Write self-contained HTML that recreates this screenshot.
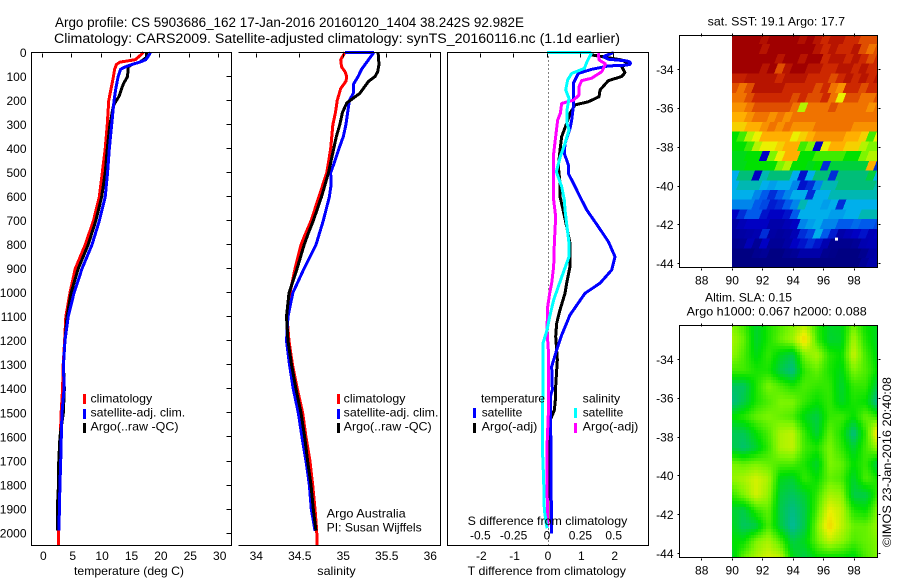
<!DOCTYPE html>
<html lang="en">
<head>
<meta charset="utf-8">
<title>Argo profile</title>
<style>
html,body{margin:0;padding:0;background:#fff;width:900px;height:580px;overflow:hidden}
svg{display:block}
text{font-family:"Liberation Sans",sans-serif;font-size:12px;fill:#000}
.t{font-size:13.5px}
.b{fill:none;stroke:#000;stroke-width:1;shape-rendering:crispEdges}
</style>
</head>
<body>
<svg id="fig" xmlns="http://www.w3.org/2000/svg" width="900" height="580" viewBox="0 0 900 580">
<defs>
<clipPath id="sst-clip"><rect x="732" y="35.5" width="145.5" height="232"/></clipPath>
<clipPath id="sla-clip"><rect x="732" y="325.5" width="145.5" height="232"/></clipPath>
</defs>
<text class="t" x="55" y="27" textLength="469" lengthAdjust="spacingAndGlyphs">Argo profile: CS 5903686_162 17-Jan-2016 20160120_1404 38.242S 92.982E</text>
<text class="t" x="54" y="43" textLength="566" lengthAdjust="spacingAndGlyphs">Climatology: CARS2009. Satellite-adjusted climatology: synTS_20160116.nc (1.1d earlier)</text>

<g id="temp-marks"></g>
<g id="sal-marks"></g>
<line id="zero-line" stroke="#000" stroke-width="1" stroke-dasharray="1 3" shape-rendering="crispEdges"/>
<g id="diff-marks"></g>

<g id="sst-cells" clip-path="url(#sst-clip)"></g>
<g id="sla-cells" clip-path="url(#sla-clip)"></g>

<path class="b" d="M31.5 52.5H231.5V545.5H31.5Z"/>
<path class="b" d="M238.5 52.5H440.5V545.5H238.5"/>
<path class="b" d="M447.5 52.5H648.5V545.5H447.5Z"/>
<path class="b" d="M679.5 35.5H877.5V267.5H679.5Z"/>
<path class="b" d="M679.5 325.5H877.5V557.5H679.5Z"/>
<g id="axes"></g>

<text x="74" y="575" textLength="110" lengthAdjust="spacingAndGlyphs">temperature (deg C)</text>
<text x="317.3" y="575" textLength="38.4" lengthAdjust="spacingAndGlyphs">salinity</text>
<text x="467.7" y="575" textLength="158.3" lengthAdjust="spacingAndGlyphs">T difference from climatology</text>
<text x="467.7" y="525" textLength="159.6" lengthAdjust="spacingAndGlyphs">S difference from climatology</text>

<g>
<rect x="83" y="394" width="3" height="10" fill="#f00"/>
<rect x="83" y="409" width="3" height="10" fill="#00f"/>
<rect x="83" y="423" width="3" height="10" fill="#000"/>
<text x="90.5" y="402.7" textLength="61.7" lengthAdjust="spacingAndGlyphs">climatology</text>
<text x="90.5" y="416.7" textLength="94.7" lengthAdjust="spacingAndGlyphs">satellite-adj. clim.</text>
<text x="90.5" y="430.7" textLength="88" lengthAdjust="spacingAndGlyphs">Argo(..raw -QC)</text>
</g>
<g>
<rect x="337" y="394" width="3" height="10" fill="#f00"/>
<rect x="337" y="409" width="3" height="10" fill="#00f"/>
<rect x="337" y="423" width="3" height="10" fill="#000"/>
<text x="343.7" y="402.7" textLength="61.7" lengthAdjust="spacingAndGlyphs">climatology</text>
<text x="343.7" y="416.7" textLength="94.7" lengthAdjust="spacingAndGlyphs">satellite-adj. clim.</text>
<text x="343.7" y="430.7" textLength="88" lengthAdjust="spacingAndGlyphs">Argo(..raw -QC)</text>
</g>
<text x="326.7" y="517.5" textLength="79" lengthAdjust="spacingAndGlyphs">Argo Australia</text>
<text x="326.7" y="531.7" textLength="95" lengthAdjust="spacingAndGlyphs">PI: Susan Wijffels</text>

<g>
<text x="481" y="402.7" textLength="64" lengthAdjust="spacingAndGlyphs">temperature</text>
<text x="582.7" y="402.7" textLength="37.5" lengthAdjust="spacingAndGlyphs">salinity</text>
<rect x="473" y="408" width="3" height="10" fill="#00f"/>
<rect x="473" y="423" width="3" height="10" fill="#000"/>
<rect x="574" y="408" width="3" height="10" fill="#0ff"/>
<rect x="574" y="423" width="3" height="10" fill="#f0f"/>
<text x="481.7" y="416.7" textLength="40.6" lengthAdjust="spacingAndGlyphs">satellite</text>
<text x="481.7" y="430.7" textLength="55.6" lengthAdjust="spacingAndGlyphs">Argo(-adj)</text>
<text x="582.7" y="416.7" textLength="40.6" lengthAdjust="spacingAndGlyphs">satellite</text>
<text x="582.7" y="430.7" textLength="55.6" lengthAdjust="spacingAndGlyphs">Argo(-adj)</text>
</g>

<text x="707.7" y="25.3" textLength="137.3" lengthAdjust="spacingAndGlyphs">sat. SST: 19.1 Argo: 17.7</text>
<text x="705" y="301.7" textLength="87" lengthAdjust="spacingAndGlyphs">Altim. SLA: 0.15</text>
<text x="686.7" y="315.7" textLength="180" lengthAdjust="spacingAndGlyphs">Argo h1000: 0.067 h2000: 0.088</text>
<text transform="translate(891 547) rotate(-90)" textLength="170" lengthAdjust="spacingAndGlyphs">©IMOS 23-Jan-2016 20:40:08</text>
</svg>

<script>
// ---------- axis tick data ----------
const depthTicks = [0,100,200,300,400,500,600,700,800,900,1000,1100,1200,1300,1400,1500,1600,1700,1800,1900,2000];
const tempTicks = [0,5,10,15,20,25,30];
const salTicks = [34,34.5,35,35.5,36];
const tDiffTicks = [-2,-1,0,1,2];
const sDiffTicks = [-0.5,-0.25,0,0.25,0.5];
const lonTicks = [88,90,92,94,96,98];
const latTicks = [34,36,38,40,42,44];

// ---------- temperature profiles (deg C) ----------
const tempClimDepth = [0,20,30,40,50,70,100,150,200,300,400,500,600,700,800,900,1000,1100,1200,1300,1400,1500,1600,1700,1800,1900,2000,2050];
const tempClimValues = [17.2,16.3,15.8,13.2,12.6,12.3,12.1,11.7,11.3,11.05,10.7,10.2,9.7,8.7,7.3,5.6,4.7,4,3.8,3.55,3.45,3.2,3.07,2.85,2.85,2.7,2.72,2.72];
const tempSatDepth = [0,20,30,40,50,60,70,100,150,200,300,400,500,600,700,800,900,1000,1100,1200,1300,1400,1500,1600,1700,1800,1900,1990];
const tempSatValues = [18.4,17.9,17.6,16.6,15.2,14.1,13.3,12.9,12.5,12.2,11.8,11.4,11.1,10.7,9.7,8.45,6.75,5.4,4.4,3.85,3.6,3.7,3.35,3.23,3.13,3,2.9,2.85];
const tempArgoDepth = [0,20,30,40,50,60,100,130,150,180,200,220,300,400,500,600,700,800,900,1000,1100,1200,1300,1400,1500,1600,1700,1800,1900,1990];
const tempArgoValues = [17.75,17.75,17.2,16.6,15.2,14.6,14.5,13.8,13.5,13.1,12.6,12.1,11.5,11.05,10.7,10.1,9.1,7.8,6.1,4.9,4.2,3.85,3.6,3.75,3.57,3,2.8,2.75,2.55,2.55];

// ---------- salinity profiles ----------
const salClimDepth = [0,30,60,80,100,120,150,200,250,300,400,500,600,700,750,800,900,1000,1100,1200,1300,1400,1500,1600,1700,1800,1900,1990,2050];
const salClimValues = [35.02,34.97,34.98,35.02,35.04,35.03,34.97,34.93,34.91,34.88,34.855,34.81,34.72,34.63,34.57,34.514,34.445,34.387,34.353,34.376,34.416,34.472,34.533,34.571,34.617,34.648,34.675,34.694,34.7];
const salSatDepth = [0,1,30,50,70,100,130,170,200,250,300,350,400,450,500,550,600,700,800,900,1000,1100,1200,1300,1400,1500,1600,1700,1800,1900,1990];
const salSatValues = [35.02,35.35,35.29,35.25,35.21,35.17,35.12,35.115,35.07,35.05,35.03,35,34.95,34.905,34.855,34.86,34.84,34.77,34.686,34.548,34.42,34.364,34.347,34.382,34.425,34.483,34.525,34.571,34.61,34.632,34.675];
const salArgoDepth = [0,50,80,100,120,140,170,190,210,250,300,350,400,500,600,700,750,800,900,1000,1100,1200,1300,1400,1500,1600,1700,1800,1900,1990];
const salArgoValues = [35.4,35.41,35.395,35.365,35.29,35.25,35.19,35.115,35.04,34.99,34.96,34.92,34.89,34.83,34.75,34.655,34.6,34.55,34.468,34.376,34.347,34.364,34.405,34.456,34.514,34.556,34.59,34.629,34.655,34.686];

// ---------- difference profiles ----------
const tDiffSatDepth = [0,17,28,35,40,45,50,53,56,70,87,128,177,225,281,316,378,420,468,503,544,600,655,725,787,850,905,960,1002,1092,1176,1238,1307,1404,1432,1515,1640,1779,2001];
const tDiffSatValues = [2,1.69,1.84,2.4,2.49,2.5,2.49,2.3,1.84,1.34,0.94,0.79,0.79,0.79,0.74,0.69,0.54,0.52,0.64,0.64,0.79,0.99,1.19,1.54,1.84,2.04,1.94,1.59,1.14,0.69,0.44,0.29,0.14,0.16,0.1,0.1,0.12,0.12,0.14];
const tDiffArgoDepth = [10,17,31,45,59,84,100,117,156,184,205,218,253,295,350,406,475,544,600,641,725,794,891,960,1002,1071,1127,1182,1279,1390,1432,1488,1543,1668,1834,1973];
const tDiffArgoValues = [1.34,1.64,2.24,2.45,2.24,2.34,2.24,1.84,1.59,1.56,1.24,0.84,0.69,0.59,0.44,0.39,0.34,0.39,0.39,0.46,0.59,0.69,0.69,0.59,0.54,0.39,0.29,0.26,0.31,0.26,0.26,0.22,0.06,0.04,0.04,0.02];
const sDiffSatDepth = [0,1,6,38,66,87,114,156,191,239,295,322,378,433,496,558,614,655,725,794,850,919,974,1030,1099,1155,1210,1404,1502,1640,1779,1904,1980];
const sDiffSatValues = [0,0.33,0.33,0.3,0.28,0.185,0.155,0.14,0.165,0.15,0.15,0.165,0.135,0.1,0.07,0.11,0.13,0.135,0.15,0.165,0.165,0.12,0.085,0.05,0.02,0,-0.03,-0.03,-0.035,-0.035,-0.025,-0.02,0];
const sDiffArgoDepth = [3,31,48,80,107,117,142,177,198,212,253,281,350,420,503,614,683,794,891,960,1002,1058,1155,1238,1404,1502,1640,1779,1973];
const sDiffArgoValues = [0.385,0.39,0.44,0.41,0.335,0.26,0.24,0.24,0.2,0.11,0.1,0.08,0.065,0.05,0.05,0.05,0.065,0.055,0.05,0.035,0.02,0.005,0,0.01,0.01,0.01,0,0,0.005];

// ---------- map data: colour-level grids ----------
const sstLons = [90,90.5,91,91.5,92,92.5,93,93.5,94,94.5,95,95.5,96,96.5,97,97.5,98,98.5,99,99.5];
const sstLats = [32.2,32.7,33.2,33.7,34.2,34.7,35.2,35.7,36.2,36.7,37.2,37.7,38.2,38.7,39.2,39.7,40.2,40.7,41.2,41.7,42.2,42.7,43.2,43.7];
const sstGrid = [
[11,11,11,11,10.6,11,11,11,11,10.6,11,10.5,10,10.5,10.5,10,10,9.5,9.5,9.5],
[11,11,11,11,10.5,11,11,11,11,11,11,10.5,10,10.5,10,10,10.5,9.5,9,9.5],
[11,11,11,11,11,11,10.5,11,11,10.5,11,11,10,10.5,10.5,10,10.5,10,9.5,10],
[11,11,11,11,10.5,11,9.5,10.5,11,11,10.5,10.5,10,10,10.5,10.5,10,10.5,10,10],
[10.2,10.2,10.5,10.5,10.5,10.5,10,10.5,10.5,10.5,10,10,10,9.5,10,10.5,10,10.5,10,10.5],
[9.5,9,9.5,10.5,10.5,10.5,10.5,10,10,10,10,9.5,10,9,8.5,10,10,9.5,10,10],
[9,9,9.5,10,10,10,10,10,9.5,10,9.5,9.5,10,9,7,9.5,9.5,9,9,9.5],
[8.5,8.5,9,9.5,9.5,9.5,9.5,9.5,9,6.5,9,9,9,9.5,9,9,9,9,8.5,9],
[8,8,8.5,9,9,8.5,9,8.5,9,9,9,9,9,9,9,9,9,9,9,9],
[7.5,7.5,8,8,8.5,9,8.5,9,8.5,8.5,8.5,9,9,9,9,9,8.5,8.5,8.5,8.5],
[5,5.5,6.5,7,8,8,8,8,7,7.5,8,8.5,8.5,8.5,8.5,8,8,7.5,5.5,7],
[5,5,5.5,6.5,7,7,7.5,8,8,5.5,6,1,7,8,8,7.5,7.5,6.5,6,6],
[4.8,4.8,5,5,1,6,7,8,8,5,5,5.5,5.5,5.5,5.5,5,5,6,6.5,6.5],
[4.8,4.8,5,5,5,5,6,6.5,5,5,4.8,5,1.5,4.5,4.5,4.5,4.5,4.5,8,1.5],
[3,4,4,1,3.5,4,4,4,3,1.2,3,4,4,1.5,4,4,4,4,4.5,3],
[3,3.5,3.5,3.5,3,2.8,3,3,2.5,1.2,1.5,2.5,3.5,3.5,4,4,4,4,4,3.5],
[3,3,3,2.5,2,1.5,2,2.5,3,3,1.5,3,3,3.5,3.5,3.5,3.5,3.5,3.5,3.5],
[2.5,2.5,2.5,2,1.8,1.3,1.5,2,2.5,3.5,3,3,2.8,3,1.5,3,3,3,3,3],
[1,1.5,2,2,1.2,1,1,1.2,2,3,3,3,3,2.8,2.8,3,3,3.5,3.5,3.5],
[0.5,0.8,1,1,1,0.6,0.6,0.8,1,2.5,2.8,3,2.5,2.5,2,2,2.2,2,2,1.8],
[0.4,0.5,0.6,0.7,1.5,0.5,0.4,0.5,0.8,1.5,1.8,3,2,1.3,0.6,0.8,1,1.2,0.8,1],
[0.2,0.3,0.8,0.3,1,0.3,0.3,0.5,1,1.2,1.5,1.2,0.7,0.2,0.2,0.2,0.3,0.7,0.8,0.8],
[0,0,0,0.2,0.3,0,0,0.2,0.3,0.6,0.6,0.6,0.2,0.1,0,0,0,0.2,0.5,0.6],
[0,0,0,0,0,0,0,0,0,0,0,0,0,0,0,0,0,0.3,0.6,0.6]
];
const argoLon = [96.85];
const argoLat = [42.73];
const slaLons = [90,90.8,91.6,92.4,93.2,94,94.8,95.6,96.4,97.2,98,98.8,99.6];
const slaLats = [32.2,33,33.8,34.6,35.4,36.2,37,37.8,38.6,39.4,40.2,41,41.8,42.6,43.4,44.2];
const slaGrid = [
[6,5.5,4.6,5.2,5.6,6,6.4,5.3,4.7,4.8,5.8,5,4.8],
[6.4,5.8,4.6,5.2,5.8,6.3,7.4,5.5,4.6,4.7,6.4,5.2,4.7],
[6.2,5.6,4.8,5.4,4.8,4.4,6,6.4,5.3,5,6.7,5.5,4.8],
[5.5,5.5,5.2,5.2,4.4,3.9,5.4,5.8,5.2,4.8,6,5.6,5],
[4.2,4.2,5.2,6,5.6,5.2,5.6,5.4,5.4,4.6,5.4,5.4,4.4],
[3.9,4.4,5.2,5.6,6,6,5.4,5,5.4,4.7,5.2,5,3.8],
[5,5.3,5.8,6,5.8,5.6,4.8,4.4,5.4,5.5,5,5.8,5.4],
[4.3,4.3,5,5.6,6.4,6.6,5.4,4.5,5.8,5.2,3.9,5.4,7.4],
[4.4,4.1,4.6,5.4,6.4,6.6,5.5,5.2,6,5.4,4.6,5.5,6.2],
[6,5.8,6,5.8,5.6,5.6,5.2,4.6,6,5.8,5,5.4,4.4],
[6.2,6.4,6.8,6.4,4.8,4.6,5.4,5,5.8,5.6,4.6,5.6,5.2],
[5.4,6,6.8,6.2,4.5,4.2,4.6,5.4,6.4,6.2,4.4,4.4,5.4],
[4.6,4.4,5.4,5.8,4.4,3.9,4.4,5.6,7,6.6,5.2,5,6],
[4.8,4.2,4.4,5.6,4.5,3.7,4.4,6,7.4,6.6,5.8,5.8,6.2],
[5,5,6,6.4,5.6,4.4,4.8,5.8,6.6,6.2,5.6,5.8,6],
[4.6,5.8,6.4,6.8,6.6,4.8,4.4,5,5,5,4.8,5.6,6]
];

// ---------- scales ----------
const yDepth = d => 52.5 + 0.2403 * d;
const xTemp = v => 42.3 + 5.88 * v;
const xSal = v => 256.3 + 87 * (v - 34);
const xTDiff = v => 547 + 33.35 * v;
const xSDiff = v => 547 + 133.4 * v;
const xLon = v => 701.7 + 15.23 * (v - 88);
const ySst = v => 69.5 + 19.43 * (v - 34);
const ySla = v => 359.5 + 19.4 * (v - 34);

const NS = 'http://www.w3.org/2000/svg';
const marker = (tag) => document.createElementNS(NS, tag);

function levelColor(v) {
  const stops = [[0,0,130],[0,0,195],[0,90,235],[0,175,235],[0,190,120],[0,225,0],[125,245,0],[235,240,0],[255,175,0],[240,115,0],[205,40,0],[160,0,0]];
  const c = Math.max(0, Math.min(11, v));
  const i = Math.min(10, Math.floor(c));
  const f = c - i;
  const m = [0,1,2].map(k => Math.round(stops[i][k] + (stops[i + 1][k] - stops[i][k]) * f));
  return 'rgb(' + m.join(',') + ')';
}

function drawLine(parentId, name, depths, values, xFn, color) {
  const el = marker('polyline');
  
  
  el.setAttribute('points', depths.map((d, i) => xFn(values[i]).toFixed(2) + ',' + yDepth(d).toFixed(2)).join(' '));
  el.setAttribute('fill', 'none');
  el.setAttribute('stroke', color);
  el.setAttribute('stroke-width', '3');
  el.setAttribute('shape-rendering', 'crispEdges');
  el.setAttribute('stroke-linejoin', 'bevel');
  document.getElementById(parentId).appendChild(el);
}

drawLine('temp-marks', 'temperature-climatology-line', tempClimDepth, tempClimValues, xTemp, '#f00');
drawLine('temp-marks', 'temperature-argo-line', tempArgoDepth, tempArgoValues, xTemp, '#000');
drawLine('temp-marks', 'temperature-satellite-line', tempSatDepth, tempSatValues, xTemp, '#00f');

drawLine('sal-marks', 'salinity-climatology-line', salClimDepth, salClimValues, xSal, '#f00');
drawLine('sal-marks', 'salinity-satellite-line', salSatDepth, salSatValues, xSal, '#00f');
drawLine('sal-marks', 'salinity-argo-line', salArgoDepth, salArgoValues, xSal, '#000');

drawLine('diff-marks', 't-diff-argo-line', tDiffArgoDepth, tDiffArgoValues, xTDiff, '#000');
drawLine('diff-marks', 't-diff-satellite-line', tDiffSatDepth, tDiffSatValues, xTDiff, '#00f');
drawLine('diff-marks', 's-diff-argo-line', sDiffArgoDepth, sDiffArgoValues, xSDiff, '#f0f');
drawLine('diff-marks', 's-diff-satellite-line', sDiffSatDepth, sDiffSatValues, xSDiff, '#0ff');

const zero = document.getElementById('zero-line');
zero.setAttribute('x1', xTDiff(0.05).toFixed(1));
zero.setAttribute('x2', xTDiff(0.05).toFixed(1));
zero.setAttribute('y1', yDepth(0));
zero.setAttribute('y2', yDepth(2050));

// ---------- ticks and labels ----------
const axes = document.getElementById('axes');
function tick(name, x1, y1, x2, y2) {
  const el = marker('line');
  
  
  el.setAttribute('x1', Math.round(x1) + 0.5);
  el.setAttribute('y1', Math.round(y1) + 0.5);
  el.setAttribute('x2', Math.round(x2) + 0.5);
  el.setAttribute('y2', Math.round(y2) + 0.5);
  el.setAttribute('stroke', '#000');
  el.setAttribute('shape-rendering', 'crispEdges');
  axes.appendChild(el);
}
function label(name, str, x, y, anchor) {
  const el = marker('text');
  
  
  el.setAttribute('x', x.toFixed(1));
  el.setAttribute('y', y.toFixed(1));
  el.setAttribute('text-anchor', anchor);
  el.textContent = str;
  axes.appendChild(el);
}
depthTicks.forEach(d => {
  tick('depth-tick', 226, yDepth(d) - 0.5, 231, yDepth(d) - 0.5);
  label('depth-tick-label', String(d), 26.5, yDepth(d) + 4.3, 'end');
});
tempTicks.forEach(v => {
  tick('temperature-tick', xTemp(v) - 0.5, 52.5, xTemp(v) - 0.5, 56.5);
  label('temperature-tick-label', String(v), xTemp(v) + 1, 560, 'middle');
});
salTicks.forEach(v => {
  tick('salinity-tick', xSal(v) - 0.5, 52.5, xSal(v) - 0.5, 56.5);
  label('salinity-tick-label', String(v), xSal(v), 560, 'middle');
});
tDiffTicks.forEach(v => {
  tick('t-difference-tick', xTDiff(v) - 0.5, 52.5, xTDiff(v) - 0.5, 56.5);
  label('t-difference-tick-label', String(v), xTDiff(v) + 1, 560, 'middle');
});
sDiffTicks.forEach(v => {
  label('s-difference-tick-label', String(v), xSDiff(v), 539.3, 'middle');
});
[[ySst, 35.5, 267.5, 284.3], [ySla, 325.5, 557.5, 574.3]].forEach(cfg => {
  const yFn = cfg[0];
  lonTicks.forEach(v => {
    tick('map-longitude-tick', xLon(v) - 0.5, cfg[1] - 2.5, xLon(v) - 0.5, cfg[1]);
    tick('map-longitude-tick', xLon(v) - 0.5, cfg[2], xLon(v) - 0.5, cfg[2] + 2);
    label('map-longitude-label', String(v), xLon(v), cfg[3], 'middle');
  });
  latTicks.forEach(v => {
    tick('map-latitude-tick', 676.5, yFn(v) - 0.5, 679, yFn(v) - 0.5);
    tick('map-latitude-tick', 877.5, yFn(v) - 0.5, 880, yFn(v) - 0.5);
    label('map-latitude-label', '-' + v, 673.5, yFn(v) + 4.3, 'end');
  });
});

// ---------- SST map cells (staircase-sheared like the source pcolor) ----------
const sstGroup = document.getElementById('sst-cells');
const sstStepLon = sstLons[1] - sstLons[0];
const sstStepLat = sstLats[1] - sstLats[0];
sstGrid.forEach((row, r) => {
  row.forEach((v, c) => {
    const x0 = xLon(sstLons[c]);
    const x1 = xLon(sstLons[c] + sstStepLon) + 0.6;
    const y0 = ySst(sstLats[r]);
    const y1 = ySst(sstLats[r] + sstStepLat) + 0.6;
    const shear = 4;
    const el = marker('polygon');
    
    
    el.setAttribute('points', [[x0, y0], [x1, y0], [x1 - shear, y1], [x0 - shear, y1]].map(p => p[0].toFixed(1) + ',' + p[1].toFixed(1)).join(' '));
    el.setAttribute('fill', levelColor(v));
    el.setAttribute('shape-rendering', 'crispEdges');
    sstGroup.appendChild(el);
  });
});
argoLon.forEach((lon, i) => {
  const el = marker('rect');
  
  
  el.setAttribute('x', (xLon(lon) - 1.5).toFixed(1));
  el.setAttribute('y', (ySst(argoLat[i]) - 1.5).toFixed(1));
  el.setAttribute('width', '3');
  el.setAttribute('height', '3');
  el.setAttribute('fill', '#fff');
  sstGroup.appendChild(el);
});

// ---------- SLA map cells (bilinear between grid nodes) ----------
const slaGroup = document.getElementById('sla-cells');
const SUB = 5;
for (let j = 0; j < slaLats.length - 1; j++) {
  for (let i = 0; i < slaLons.length - 1; i++) {
    for (let b = 0; b < SUB; b++) {
      for (let a = 0; a < SUB; a++) {
        const fx = (a + 0.5) / SUB;
        const fy = (b + 0.5) / SUB;
        const v = slaGrid[j][i] * (1 - fx) * (1 - fy) + slaGrid[j][i + 1] * fx * (1 - fy) +
                  slaGrid[j + 1][i] * (1 - fx) * fy + slaGrid[j + 1][i + 1] * fx * fy;
        const lonA = slaLons[i] + (slaLons[i + 1] - slaLons[i]) * a / SUB;
        const lonB = slaLons[i] + (slaLons[i + 1] - slaLons[i]) * (a + 1) / SUB;
        const latA = slaLats[j] + (slaLats[j + 1] - slaLats[j]) * b / SUB;
        const latB = slaLats[j] + (slaLats[j + 1] - slaLats[j]) * (b + 1) / SUB;
        const px = Math.floor(xLon(lonA));
        const py = Math.floor(ySla(latA));
        const el = marker('rect');
        
        
        el.setAttribute('x', px);
        el.setAttribute('y', py);
        el.setAttribute('width', Math.ceil(xLon(lonB)) - px);
        el.setAttribute('height', Math.ceil(ySla(latB)) - py);
        el.setAttribute('fill', levelColor(v));
        el.setAttribute('shape-rendering', 'crispEdges');
        slaGroup.appendChild(el);
      }
    }
  }
}
</script>
</body>
</html>
